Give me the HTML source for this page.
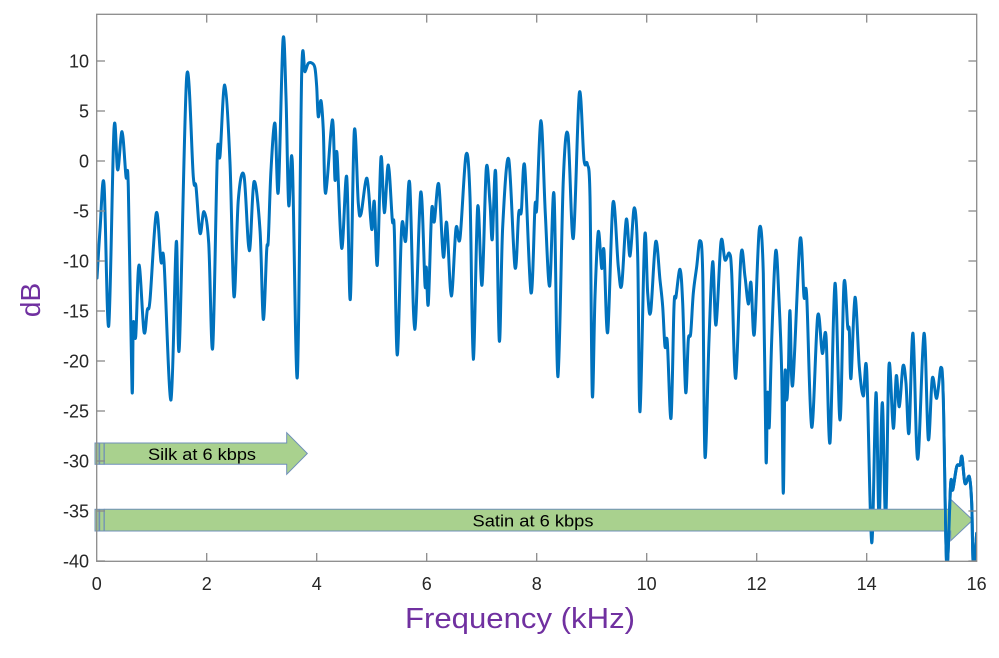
<!DOCTYPE html>
<html><head><meta charset="utf-8"><style>
html,body{margin:0;padding:0;background:#fff;}
svg{display:block;}
</style></head><body>
<svg id="svg" width="999" height="658" viewBox="0 0 999 658" xmlns="http://www.w3.org/2000/svg">
<rect x="0" y="0" width="999" height="658" fill="#fff"/>
<defs>
<clipPath id="c"><rect x="97" y="14.3" width="880" height="547"/></clipPath>
<clipPath id="c2"><rect x="944" y="14.3" width="33" height="547"/></clipPath>
</defs>
<g id="curveg" clip-path="url(#c)">
<polyline id="curve" fill="none" stroke="#0072BD" stroke-width="3" stroke-linejoin="round" stroke-linecap="round" points="
97,278 100,230 104,184 108.7,326 114,129 117.7,170 122,131.7 126,176.7 128.3,186.7 132,389 133.3,323 135.7,336.7 139,265 144,331.7 147.3,310 150,300 156.3,213 161,261.7 164,261.7 171,400 176.3,241.7 179.3,348 186.7,76.7 193.3,176.7 196,186.7 200,233.3 204,211.7 208.7,243 212.7,347.7 217.3,156 220,156 224.7,85 230,163 234,296.7 238.3,200 244,175.7 249.3,250.7 254,181.7
260,230 263.3,319.3 266.7,250 268.3,240 271,170 275,123.3 278.3,191.7 283,40 286,96.7 288.7,205 292.3,161.7 297.3,377.3 301.7,73.3 305,71.7 308.3,63.3 312.3,63.3 315,68.3 316.7,86.7 318.3,116.7 321,100.7 323.3,130 325.7,193.3 332.3,120 335,180 337,153.3 341.7,248.3 346.7,176.7 350.3,299.3 354.3,131 358.3,203.3 361,214 367,178.3 371.7,229.3 374.3,201.7 377.3,265 381,157.3 384.3,212.7 388.3,165 392.3,220 394.3,230 397.3,355 401.7,226.7 405.7,240.7 409.7,183.3 414.7,329.3 420.7,192.3 425,285 426.3,267.3 428.3,304 431.7,210
434.3,221.7 438.7,184 443.3,256.7 446.7,222.7 451.3,296 456,228.3 460,238.3 466,155 470,196.7 473.3,359.3 477.7,206.7 482,285 486.3,168.3 490,203.3 492.3,239.3 495.7,172.7 499.3,340.7 502.7,226.7 508.7,159 515,267.3 518.7,213.3 521.3,211.7 524.7,166 531,292.7 535,206 536.7,208.3 541,120.7 545.3,213.3 549.7,286 554,194 558,376.7 563.3,180 568,135 573.3,238.3 579.3,93.3 584,160 587.3,164 590,196.7 592.3,395 595,296.7 598.3,231.7 601.7,268.3 604,250.7 607.7,332.3
613,202.7 618.3,266.7 621.7,285 626.3,219.3 630,256 634.3,207.7 637.7,256.7 640,411.7 644.7,236.7 647.7,293.3 650.7,311.7 655.7,241.7 660,280 662.7,306.7 665,346.7 667.3,341.7 671,418.3 674,306.7 676,296.7 680,269.3 682.7,303.3 685.7,392.3 688.3,340 690.7,333.3 693.3,293.3 696.7,266.7 700,240.7 702.7,273.3 705,456.7 709,340 712.7,261.7 716,325 721,241.7 725,260 729.3,253.3 731.7,273.3 735.7,378.3 741,255 745,276.7 748.3,304 751,282.7 754.3,334.3 759.3,229.3 763.3,273.3 766,459.3 767.3,396.7 768.3,400 769.3,426 771.7,340 775.7,251 779,300 781.7,373.3 783.3,493.3
785,373.3 786.7,400 788.3,373.3 790,310.7 792.7,385 800,240 804,296.7 806.7,296 811.7,427.3 817.7,316 822.3,353.3 826,336 830,442.7 835,283.3 840,420 844,283.3 847.7,326.7 849.3,330 851,378.3 855,297.3 859.3,366.7 863.3,396 866.7,370 871.7,542.7 876,392.7 879,522 882.3,402.7 885.7,520 889,365 893.3,428.3 896.3,375.7 899.3,406.7 903,366 906,383.3 909,432.7 913,333.3 917.7,459.3 924,333.3 928.3,439.3 932.3,378.3 936.7,398.3 941,367.3 943.3,400 946.7,565 950.7,483.3 952.7,490 956.7,466.7 960,465 962,456.7 965,483.3 969.3,476.7 971.7,503.3 973.3,565 976.7,533.3"/>
</g>

<!-- arrows -->
<g stroke="#6F8FB8" stroke-width="1" fill="#A9D18E">
<rect x="95" y="443" width="4" height="21.3"/>
<rect x="99.7" y="443" width="4.3" height="21.3"/>
<polygon points="104.3,443 286.7,443 286.7,432.7 307.3,453.5 286.7,474.3 286.7,464.3 104.3,464.3"/>
<rect x="95" y="509.3" width="4" height="21.7"/>
<rect x="99.7" y="509.3" width="4.3" height="21.7"/>
<polygon points="104.3,509.3 950.7,509.3 950.7,499.3 972.7,520 950.7,540.7 950.7,531 104.3,531"/>
</g>
<text x="202" y="460" font-family="Liberation Sans, sans-serif" font-size="17" fill="#000" text-anchor="middle" textLength="108" lengthAdjust="spacingAndGlyphs">Silk at 6 kbps</text>
<text x="533" y="526.5" font-family="Liberation Sans, sans-serif" font-size="17" fill="#000" text-anchor="middle" textLength="121" lengthAdjust="spacingAndGlyphs">Satin at 6 kbps</text>

<!-- curve on top near right edge -->
<g clip-path="url(#c2)">
<use href="#curve"/>
</g>

<!-- axes box -->
<rect x="96.7" y="14.3" width="880" height="547" fill="none" stroke="#8a8a8a" stroke-width="1.3"/>
<g stroke="#8a8a8a" stroke-width="1.3">
<line x1="206.7" y1="561.3" x2="206.7" y2="553"/><line x1="206.7" y1="14.3" x2="206.7" y2="22.6"/>
<line x1="316.7" y1="561.3" x2="316.7" y2="553"/><line x1="316.7" y1="14.3" x2="316.7" y2="22.6"/>
<line x1="426.7" y1="561.3" x2="426.7" y2="553"/><line x1="426.7" y1="14.3" x2="426.7" y2="22.6"/>
<line x1="536.7" y1="561.3" x2="536.7" y2="553"/><line x1="536.7" y1="14.3" x2="536.7" y2="22.6"/>
<line x1="646.7" y1="561.3" x2="646.7" y2="553"/><line x1="646.7" y1="14.3" x2="646.7" y2="22.6"/>
<line x1="756.7" y1="561.3" x2="756.7" y2="553"/><line x1="756.7" y1="14.3" x2="756.7" y2="22.6"/>
<line x1="866.7" y1="561.3" x2="866.7" y2="553"/><line x1="866.7" y1="14.3" x2="866.7" y2="22.6"/>
<line x1="96.7" y1="61" x2="105" y2="61"/><line x1="976.7" y1="61" x2="968.4" y2="61"/>
<line x1="96.7" y1="111" x2="105" y2="111"/><line x1="976.7" y1="111" x2="968.4" y2="111"/>
<line x1="96.7" y1="161" x2="105" y2="161"/><line x1="976.7" y1="161" x2="968.4" y2="161"/>
<line x1="96.7" y1="211" x2="105" y2="211"/><line x1="976.7" y1="211" x2="968.4" y2="211"/>
<line x1="96.7" y1="261" x2="105" y2="261"/><line x1="976.7" y1="261" x2="968.4" y2="261"/>
<line x1="96.7" y1="311" x2="105" y2="311"/><line x1="976.7" y1="311" x2="968.4" y2="311"/>
<line x1="96.7" y1="361" x2="105" y2="361"/><line x1="976.7" y1="361" x2="968.4" y2="361"/>
<line x1="96.7" y1="411" x2="105" y2="411"/><line x1="976.7" y1="411" x2="968.4" y2="411"/>
<line x1="96.7" y1="461" x2="105" y2="461"/><line x1="976.7" y1="461" x2="968.4" y2="461"/>
<line x1="96.7" y1="511" x2="105" y2="511"/><line x1="976.7" y1="511" x2="968.4" y2="511"/>
<line x1="96.7" y1="561" x2="105" y2="561"/><line x1="976.7" y1="561" x2="968.4" y2="561"/>
</g>

<g font-family="Liberation Sans, Arial, sans-serif" font-size="18" fill="#262626" text-anchor="end">
<text x="89" y="67.5">10</text>
<text x="89" y="117.5">5</text>
<text x="89" y="167.5">0</text>
<text x="89" y="217.5">-5</text>
<text x="89" y="267.5">-10</text>
<text x="89" y="317.5">-15</text>
<text x="89" y="367.5">-20</text>
<text x="89" y="417.5">-25</text>
<text x="89" y="467.5">-30</text>
<text x="89" y="517.5">-35</text>
<text x="89" y="567.5">-40</text>
</g>
<g font-family="Liberation Sans, Arial, sans-serif" font-size="18" fill="#262626" text-anchor="middle">
<text x="96.7" y="590">0</text>
<text x="206.7" y="590">2</text>
<text x="316.7" y="590">4</text>
<text x="426.7" y="590">6</text>
<text x="536.7" y="590">8</text>
<text x="646.7" y="590">10</text>
<text x="756.7" y="590">12</text>
<text x="866.7" y="590">14</text>
<text x="976.7" y="590">16</text>
</g>

<text transform="translate(40,300) rotate(-90)" font-family="Liberation Sans, sans-serif" font-size="28" fill="#7030A0" text-anchor="middle">dB</text>
<text x="520" y="628" font-family="Liberation Sans, sans-serif" font-size="29" fill="#7030A0" text-anchor="middle" textLength="230" lengthAdjust="spacingAndGlyphs">Frequency (kHz)</text>
</svg>
<script>
(function(){
  try{
    var pl=document.getElementById('curve');
    var raw=pl.getAttribute('points').trim().split(/\s+/);
    var p=[];
    for(var i=0;i<raw.length;i++){var a=raw[i].split(',');p.push([parseFloat(a[0]),parseFloat(a[1])]);}
    var d='M'+p[0][0]+','+p[0][1];
    for(var i=0;i<p.length-1;i++){
      var p0=p[i>0?i-1:i],p1=p[i],p2=p[i+1],p3=p[i+2<p.length?i+2:i+1];
      var k=1/6;
      var c1x=p1[0]+(p2[0]-p0[0])*k,c1y=p1[1]+(p2[1]-p0[1])*k;
      var c2x=p2[0]-(p3[0]-p1[0])*k,c2y=p2[1]-(p3[1]-p1[1])*k;
      d+=' C'+c1x.toFixed(2)+','+c1y.toFixed(2)+' '+c2x.toFixed(2)+','+c2y.toFixed(2)+' '+p2[0]+','+p2[1];
    }
    var ns='http://www.w3.org/2000/svg';
    var path=document.createElementNS(ns,'path');
    path.setAttribute('d',d);
    path.setAttribute('fill','none');
    path.setAttribute('stroke','#0072BD');
    path.setAttribute('stroke-width','3');
    path.setAttribute('stroke-linejoin','round');
    path.setAttribute('stroke-linecap','round');
    pl.parentNode.replaceChild(path,pl);
    path.setAttribute('id','curve');
  }catch(e){}
})();
</script>
</body></html>
